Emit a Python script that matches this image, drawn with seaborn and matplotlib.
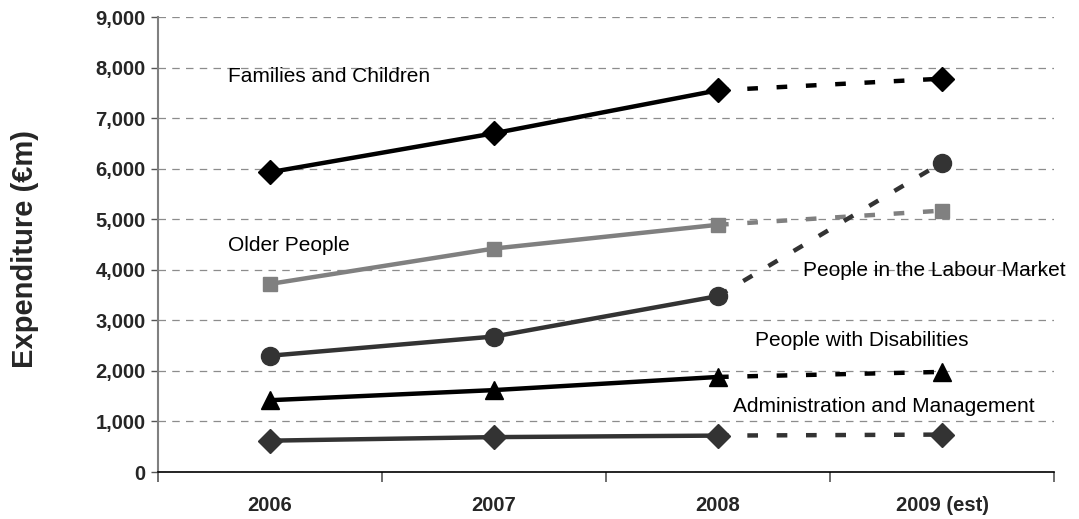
import matplotlib
matplotlib.use("Agg")
import matplotlib.pyplot as plt
import matplotlib.ticker as mticker
import seaborn as sns
import pandas as pd

years = ["2006", "2007", "2008", "2009 (est)"]
families = [5930, 6700, 7550, 7780]
older = [3720, 4420, 4890, 5170]
labour = [2300, 2680, 3480, 6120]
disabilities = [1420, 1620, 1880, 1980]
admin = [620, 690, 720, 740]

series_names = ["Families and Children", "Older People", "People in the Labour Market",
                "People with Disabilities", "Administration and Management"]
series_vals = [families, older, labour, disabilities, admin]
colors = ["#000000", "#808080", "#333333", "#000000", "#333333"]
markers = ["D", "s", "o", "^", "D"]
msizes = [12, 10, 13, 13, 12]

sns.set_theme(style="white")
plt.rcParams['font.family'] = ['Liberation Sans', 'DejaVu Sans']

fig = plt.figure(figsize=(10.79, 5.19), dpi=100)
ax = fig.add_axes([158/1079, 1 - 472/519, (1054 - 158)/1079, (472 - 17)/519])

rows = []
for name, vals in zip(series_names, series_vals):
    for i, v in enumerate(vals):
        rows.append({"series": name, "x": i, "year": years[i], "value": v})
df = pd.DataFrame(rows)

for name, c, m, ms in zip(series_names, colors, markers, msizes):
    d = df[df.series == name]
    solid = d[d.x <= 2]
    est = d[d.x >= 2]
    sns.lineplot(data=est, x="x", y="value", ax=ax, color=c, lw=3.2,
                 linestyle=(0, (2.4, 4.2)), marker=None, legend=False, zorder=2)
    sns.lineplot(data=solid, x="x", y="value", ax=ax, color=c, lw=3.2,
                 marker=None, legend=False, zorder=2)
    ax.plot(d.x, d.value, linestyle="none", marker=m, ms=ms, color=c,
            markeredgecolor=c, zorder=3)

ax.set_xlim(-0.5, 3.5)
ax.set_ylim(0, 9000)
ax.yaxis.set_major_locator(mticker.MultipleLocator(1000))
ax.yaxis.set_major_formatter(mticker.FuncFormatter(lambda v, p: f"{int(v):,}"))
ax.set_xticks(range(len(years)))
ax.set_xticklabels(years)
ax.set_xticks([-0.5, 0.5, 1.5, 2.5, 3.5], minor=True)
ax.tick_params(axis="x", which="major", length=0, pad=17, labelsize=14.5)
ax.tick_params(axis="x", which="minor", length=7, width=1.2, color="#555555", direction="out", bottom=True)
ax.tick_params(axis="y", which="major", length=5, width=1, color="#555555", direction="out", left=True, labelsize=14.5, pad=4)
for lab in ax.get_xticklabels() + ax.get_yticklabels():
    lab.set_fontweight("bold")

ax.grid(axis="y", color="#8c8c8c", linestyle=(0, (6, 5)), lw=0.9)
ax.set_axisbelow(True)
for s in ["top", "right"]:
    ax.spines[s].set_visible(False)
ax.spines["left"].set_color("#808080")
ax.spines["left"].set_linewidth(1.5)
ax.spines["bottom"].set_color("#000000")
ax.spines["bottom"].set_linewidth(1.2)

ax.set_xlabel("")
ax.set_ylabel("")
fig.text(25/1079, 1 - 249/519, "Expenditure (€m)", fontsize=21, fontweight="bold",
         rotation=90, ha="center", va="center")

label_pos = [(228, 77), (228, 245), (803, 270), (755, 341), (733, 406)]
for name, (px, py) in zip(series_names, label_pos):
    fig.text(px/1079, 1 - py/519, name, fontsize=15, ha="left", va="center", color="#000000")

fig.savefig("out.png", dpi=100)
